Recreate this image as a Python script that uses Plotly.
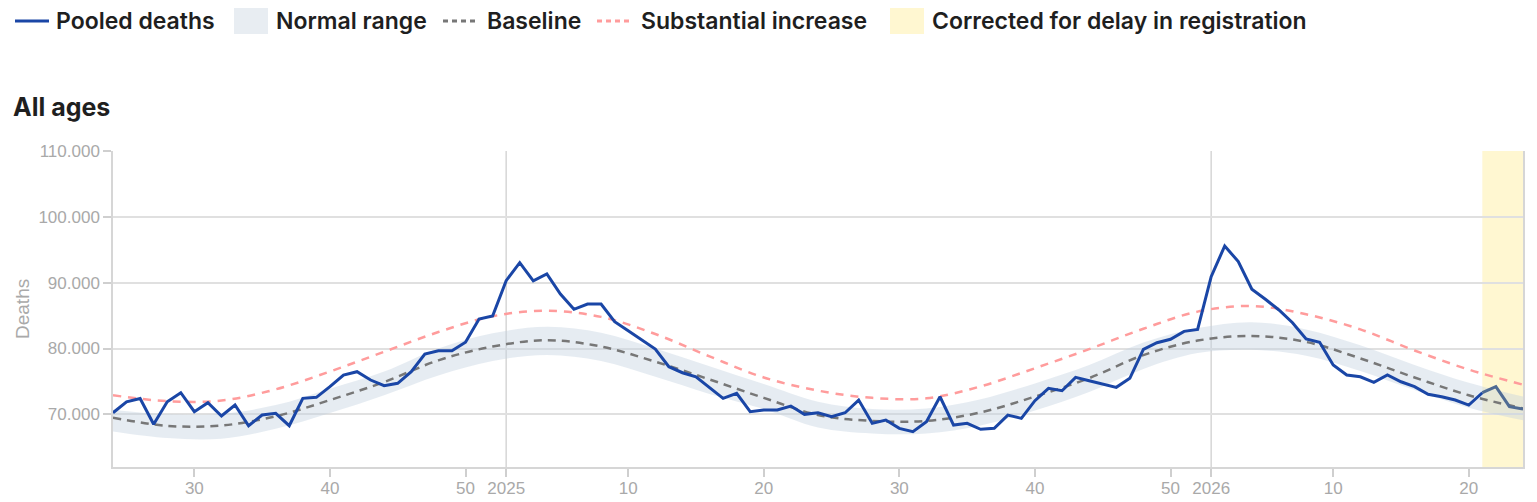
import plotly.graph_objects as go

# ---- data (week index: 0 = 2025 week 1, 52 = 2026 week 1) ----
weeks = list(range(-29, 76))
pooled_deaths = [
    70240, 71900, 72400, 68500, 71900, 73280, 70400, 71760, 69740, 71410,
    68270, 69890, 70150, 68270, 72430, 72580, 74200, 75970, 76480, 75210,
    74350, 74710, 76480, 79160, 79670, 79670, 80950, 84480, 84940, 90300,
    93040, 90260, 91320, 88280, 85950, 86760, 86760, 84070, 82700, 81290,
    79920, 77230, 76320, 75710, 74040, 72430, 73190, 70400, 70650, 70650,
    71260, 70000, 70240, 69640, 70240, 72170, 68630, 69130, 67870, 67360,
    68880, 72670, 68370, 68630, 67720, 67870, 69890, 69390, 72070, 73950,
    73590, 75620, 75100, 74600, 74100, 75470, 79880, 80880, 81400, 82600,
    82900, 90910, 95580, 93200, 89000, 87480, 85850, 83920, 81440, 80940,
    77490, 75970, 75710, 74860, 75970, 74950, 74200, 73040, 72670, 72170,
    71410, 73280, 74200, 71160, 70800,
]
n_corrected = 4  # last weeks corrected for delay in registration

curve_weeks = list(range(-29, 76, 4))
baseline = [69500, 68250, 68300, 69700, 72170, 74900, 78200, 80300, 81250,
            80300, 78000, 75300, 72500, 69900, 69000, 69000, 70300, 72700,
            75500, 79000, 81200, 81900, 81000, 78500, 75600, 72900, 70900]
normal_upper = [70700, 70000, 70100, 71400, 73900, 76500, 80000, 82300, 83300,
                82400, 80000, 77300, 74600, 71900, 70800, 70900, 72300, 74700,
                77500, 80900, 83100, 84000, 82900, 80500, 77500, 74800, 72700]
normal_lower = [67400, 66400, 66300, 67800, 70200, 72900, 75900, 78100, 79000,
                78100, 75700, 73100, 70800, 68000, 67100, 67100, 68300, 70600,
                73400, 76900, 79300, 79800, 78900, 76600, 73700, 71000, 69100]
substantial_increase = [72900, 72000, 72100, 73800, 76500, 79500, 82500, 84900,
                        85750, 84800, 82200, 78800, 75600, 73600, 72500, 72430,
                        74250, 77000, 79900, 83000, 85600, 86450, 85200, 82900,
                        79700, 76800, 74500]

tick_weeks = [-23, -13, -3, 0, 9, 19, 29, 39, 49, 52, 61, 71]
tick_labels = ["30", "40", "50", "2025", "10", "20", "30", "40", "50", "2026", "10", "20"]
year_start_labels = ["2025", "2026"]
y_ticks = [70000, 80000, 90000, 100000, 110000]

legend_names = ["Pooled deaths", "Normal range", "Baseline", "Substantial increase",
                "Corrected for delay in registration"]

# ---- styles ----
BLUE = "#1a46a6"
CORR = "#4f6b93"
GREY = "#777777"
RED = "#ff9c9c"
BAND = "rgba(196,210,224,0.42)"
BAND_SOLID = "#e8edf2"
YELLOW = "#fff7d1"
TICK = "#a9a9a9"
TXT_FONT = dict(family="Inter, Roboto, sans-serif", size=23, color="#1f1f1f", weight=600)

# plot-area geometry in pixels (for placing the legend above the plot)
W, H = 1537, 502
ML, MR, MT, MB = 113, 14, 151, 35
PW, PH = W - ML - MR, H - MT - MB


def px(xp):
    return (xp - ML) / PW


def py(yp):
    return (H - MB - yp) / PH


fig = go.Figure()

fig.add_trace(go.Scatter(x=curve_weeks, y=normal_lower, mode="lines",
                         line=dict(width=0, shape="spline"), hoverinfo="skip",
                         showlegend=False))
fig.add_trace(go.Scatter(x=curve_weeks, y=normal_upper, mode="lines",
                         line=dict(width=0, shape="spline"), fill="tonexty",
                         fillcolor=BAND, name=legend_names[1], showlegend=False))
fig.add_trace(go.Scatter(x=curve_weeks, y=baseline, mode="lines", name=legend_names[2],
                         line=dict(color=GREY, width=2.5, dash="8px,6px", shape="spline"),
                         showlegend=False))
fig.add_trace(go.Scatter(x=curve_weeks, y=substantial_increase, mode="lines",
                         name=legend_names[3],
                         line=dict(color=RED, width=2.5, dash="8px,7px", shape="spline"),
                         showlegend=False))

cut = len(weeks) - n_corrected
fig.add_trace(go.Scatter(x=weeks[:cut + 1], y=pooled_deaths[:cut + 1], mode="lines",
                         name=legend_names[0], line=dict(color=BLUE, width=3),
                         showlegend=False))
fig.add_trace(go.Scatter(x=weeks[cut:], y=pooled_deaths[cut:], mode="lines",
                         name=legend_names[4], line=dict(color=CORR, width=3),
                         showlegend=False))

# corrected period background
fig.add_shape(type="rect", xref="x", yref="paper", x0=weeks[cut], x1=weeks[-1],
              y0=0, y1=1, fillcolor=YELLOW, line=dict(width=0), layer="below")
# year boundaries
for lab in year_start_labels:
    xv = tick_weeks[tick_labels.index(lab)]
    fig.add_shape(type="line", xref="x", yref="paper", x0=xv, x1=xv, y0=0, y1=1,
                  line=dict(color="#d6d6d6", width=1.5), layer="below")

# ---- legend row (drawn above the plot) ----
leg_y = 21
leg_sym_x = [15, 234, 443, 597, 890]
leg_txt_x = [56, 276, 487, 641, 932]
sym_w = 34
kinds = [("line", BLUE, "solid"), ("box", BAND_SOLID, None), ("line", GREY, "5px,4px"),
         ("line", RED, "5px,4px"), ("box", YELLOW, None)]
for name, sx, tx, (kind, col, dash) in zip(legend_names, leg_sym_x, leg_txt_x, kinds):
    if kind == "line":
        fig.add_shape(type="line", xref="paper", yref="paper",
                      x0=px(sx), x1=px(sx + sym_w), y0=py(leg_y), y1=py(leg_y),
                      line=dict(color=col, width=3, dash=dash))
    else:
        fig.add_shape(type="rect", xref="paper", yref="paper",
                      x0=px(sx), x1=px(sx + sym_w), y0=py(leg_y + 13), y1=py(leg_y - 13),
                      fillcolor=col, line=dict(width=0))
    fig.add_annotation(text=name, xref="paper", yref="paper", x=px(tx - 2), y=py(leg_y),
                       xanchor="left", yanchor="middle", showarrow=False, font=TXT_FONT)

fig.add_annotation(text="All ages", xref="paper", yref="paper", x=px(11), y=py(107),
                   xanchor="left", yanchor="middle", showarrow=False,
                   font=dict(family="Inter, Roboto, sans-serif", size=25,
                             color="#1f1f1f", weight=700))
fig.add_annotation(text="Deaths", xref="paper", yref="paper", x=px(22), y=py(309),
                   xanchor="center", yanchor="middle", textangle=-90, showarrow=False,
                   font=dict(family="Liberation Sans, Arial, sans-serif", size=19, color=TICK))

fig.update_layout(
    width=W, height=H,
    margin=dict(l=ML, r=MR, t=MT, b=MB, autoexpand=False),
    paper_bgcolor="white", plot_bgcolor="white",
    separators=",.",
    showlegend=False,
    xaxis=dict(range=[weeks[0], weeks[-1]], tickvals=tick_weeks, ticktext=tick_labels,
               showgrid=False, zeroline=False, showline=True, linecolor="#d6d6d6",
               linewidth=1.5, ticks="outside", ticklen=8, tickcolor="#cfcfcf",
               tickwidth=1.5, ticklabelstandoff=-3,
               tickfont=dict(family="Liberation Sans, Arial, sans-serif", size=17, color=TICK)),
    yaxis=dict(range=[62000, 110000], tickvals=y_ticks, tickformat=",d",
               showgrid=True, gridcolor="#e0e0e0", gridwidth=1.5, zeroline=False,
               showline=True, linecolor="#d6d6d6", linewidth=1.5, mirror=True,
               ticks="outside", ticklen=8, tickcolor="#cfcfcf", tickwidth=1.5,
               tickfont=dict(family="Liberation Sans, Arial, sans-serif", size=17, color=TICK)),
)

fig.write_html("out.html")
